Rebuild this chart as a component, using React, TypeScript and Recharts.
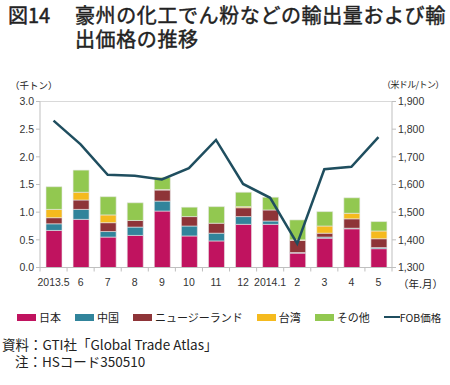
import React from "react";
import {
  ComposedChart,
  Bar,
  Line,
  XAxis,
  YAxis,
  CartesianGrid,
  Legend,
} from "recharts";

const months = ["2013.5", "6", "7", "8", "9", "10", "11", "12", "2014.1", "2", "3", "4", "5"];
const japan = [0.67, 0.87, 0.55, 0.58, 1.02, 0.57, 0.48, 0.78, 0.78, 0.26, 0.53, 0.7, 0.34];
const china = [0.12, 0.18, 0.1, 0.15, 0.18, 0.18, 0.14, 0.14, 0.06, 0.01, 0.02, 0.01, 0.02];
const newZealand = [0.11, 0.17, 0.16, 0.12, 0.2, 0.17, 0.18, 0.16, 0.2, 0.22, 0.07, 0.17, 0.16];
const taiwan = [0.15, 0.14, 0.14, 0, 0.01, 0, 0, 0.02, 0, 0.01, 0.13, 0.1, 0.14];
const others = [0.41, 0.4, 0.33, 0.32, 0.22, 0.17, 0.3, 0.26, 0.23, 0.36, 0.26, 0.28, 0.17];
const fobPrice = [1831, 1745, 1635, 1632, 1618, 1659, 1761, 1602, 1552, 1386, 1655, 1664, 1771];

const leftTicks = [0, 0.5, 1, 1.5, 2, 2.5, 3];
const rightTicks = [1300, 1400, 1500, 1600, 1700, 1800, 1900];

const data = months.map((m, i) => ({
  month: m,
  japan: japan[i],
  china: china[i],
  nz: newZealand[i],
  taiwan: taiwan[i],
  others: others[i],
  fob: fobPrice[i],
}));

const series = [
  { key: "japan", name: "日本", color: "#C0135F" },
  { key: "china", name: "中国", color: "#31849B" },
  { key: "nz", name: "ニュージーランド", color: "#8E3438" },
  { key: "taiwan", name: "台湾", color: "#F5BA1E" },
  { key: "others", name: "その他", color: "#92C850" },
];

const LINE_COLOR = "#1F4E5F";
const AXIS_COLOR = "#BFBFBF";
const FONT = "'Liberation Sans', 'Noto Sans CJK JP', sans-serif";
const JP_FONT = "'Noto Sans CJK JP', sans-serif";

const MonthTick = (props: any) => {
  const { x, y, payload, index } = props;
  const band = 352 / months.length;
  const left = x - band / 2;
  return (
    <g>
      <line x1={left} y1={y - 8} x2={left} y2={y - 4} stroke={AXIS_COLOR} />
      {index === months.length - 1 && (
        <line x1={left + band} y1={y - 8} x2={left + band} y2={y - 4} stroke={AXIS_COLOR} />
      )}
      <text x={x} y={y + 10} textAnchor="middle" fontSize={10.5} fill="#333" fontFamily={FONT}>
        {payload.value}
      </text>
    </g>
  );
};

const LegendContent = () => (
  <div
    style={{
      display: "flex",
      alignItems: "center",
      fontFamily: JP_FONT,
      fontSize: 11,
      color: "#222",
      paddingLeft: 17,
      height: 14,
      whiteSpace: "nowrap",
    }}
  >
    {series.map((s) => (
      <div key={s.key} style={{ display: "flex", alignItems: "center", marginRight: 14 }}>
        <span style={{ width: 19, height: 7, background: s.color, marginRight: 3, display: "inline-block" }} />
        <span>{s.name}</span>
      </div>
    ))}
    <div style={{ display: "flex", alignItems: "center" }}>
      <span style={{ width: 16, height: 2, background: LINE_COLOR, display: "inline-block" }} />
      <span style={{ fontSize: 10.5 }}>FOB価格</span>
    </div>
  </div>
);

export default function App() {
  return (
    <div
      style={{
        position: "absolute",
        left: 0,
        top: 0,
        width: 450,
        height: 385,
        background: "#fff",
        fontFamily: JP_FONT,
        color: "#222",
      }}
    >
      <div
        style={{
          position: "absolute",
          left: 8,
          top: 3,
          fontSize: 20,
          fontWeight: 400,
          lineHeight: "24px",
          whiteSpace: "nowrap",
          letterSpacing: 0.6,
          WebkitTextStroke: "0.45px #222",
        }}
      >
        <span style={{ display: "inline-block", width: 67, letterSpacing: 0 }}>図14</span>
        豪州の化工でん粉などの輸出量および輸
        <br />
        <span style={{ display: "inline-block", width: 67 }} />
        出価格の推移
      </div>
      <div style={{ position: "absolute", left: 10, top: 78, fontSize: 9.5 }}>（千トン）</div>
      <div style={{ position: "absolute", left: 382, top: 78, fontSize: 9, letterSpacing: -0.6, whiteSpace: "nowrap" }}>
        （米ドル/トン）
      </div>
      <div style={{ position: "absolute", left: 398, top: 276, fontSize: 10.5 }}>（年.月）</div>
      <div style={{ position: "absolute", top: 50, left: 0 }}>
        <ComposedChart
          width={450}
          height={290}
          data={data}
          margin={{ top: 51.5, right: 8, bottom: 16, left: 0 }}
          barCategoryGap={5.5}
        >
          <CartesianGrid vertical={false} stroke="#D9D9D9" />
          <XAxis
            dataKey="month"
            tick={<MonthTick />}
            tickLine={false}
            axisLine={{ stroke: AXIS_COLOR }}
            interval={0}
            height={42.5}
          />
          <YAxis
            yAxisId="left"
            domain={[0, 3]}
            ticks={leftTicks}
            tickFormatter={(v: number) => v.toFixed(1)}
            width={40}
            axisLine={{ stroke: AXIS_COLOR }}
            tickLine={{ stroke: AXIS_COLOR }}
            tickSize={4}
            tick={{ fontSize: 10.5, fill: "#333", fontFamily: FONT }}
          />
          <YAxis
            yAxisId="right"
            orientation="right"
            domain={[1300, 1900]}
            ticks={rightTicks}
            tickFormatter={(v: number) => v.toLocaleString("en-US")}
            width={50}
            axisLine={{ stroke: AXIS_COLOR }}
            tickLine={{ stroke: AXIS_COLOR }}
            tickSize={4}
            tick={{ fontSize: 10.5, fill: "#333", fontFamily: FONT }}
          />
          {series.map((s) => (
            <Bar
              key={s.key}
              yAxisId="left"
              dataKey={s.key}
              name={s.name}
              stackId="a"
              fill={s.color}
              stroke="#E8E8E8"
              strokeWidth={0.6}
              barSize={16}
              isAnimationActive={false}
            />
          ))}
          <Line
            yAxisId="right"
            dataKey="fob"
            name="FOB価格"
            stroke={LINE_COLOR}
            strokeWidth={2.5}
            dot={false}
            isAnimationActive={false}
          />
          <Legend
            verticalAlign="bottom"
            content={<LegendContent />}
            wrapperStyle={{ width: 450, left: 0 }}
          />
        </ComposedChart>
      </div>
      <div style={{ position: "absolute", left: 2, top: 336, fontSize: 13.5, lineHeight: "17px", whiteSpace: "nowrap" }}>
        資料：GTI社「Global Trade Atlas」
        <br />
        <span style={{ paddingLeft: 13 }}>注：HSコード350510</span>
      </div>
    </div>
  );
}
